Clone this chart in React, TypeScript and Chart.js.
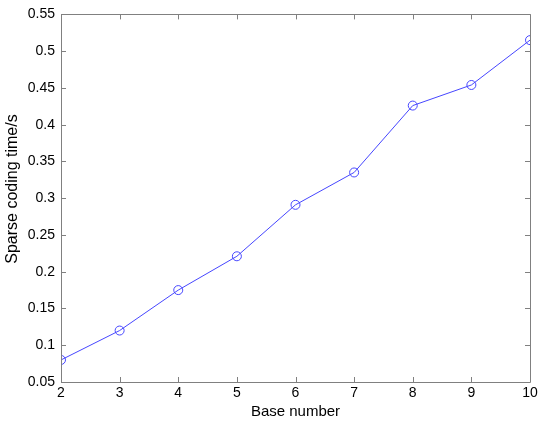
import React, { useEffect, useRef } from "react";
import { Chart, registerables } from "chart.js";

Chart.register(...registerables);

const baseNumbers = [2, 3, 4, 5, 6, 7, 8, 9, 10];
const codingTimes = [0.08, 0.12, 0.175, 0.221, 0.291, 0.335, 0.426, 0.454, 0.515];
const yTicks = [0.05, 0.1, 0.15, 0.2, 0.25, 0.3, 0.35, 0.4, 0.45, 0.5, 0.55];
const xTicks = [2, 3, 4, 5, 6, 7, 8, 9, 10];
const yTitle = "Sparse coding time/s";
const xTitle = "Base number";

const AXIS_COLOR = "#808080";
const FONT = "'Liberation Sans', Arial, sans-serif";

const boxPlugin = {
  id: "matlabBox",
  afterDraw(chart: any) {
    const { ctx, chartArea } = chart;
    const { left, right, top, bottom } = chartArea;
    const xs = chart.scales.x;
    const ys = chart.scales.y;
    ctx.save();
    ctx.strokeStyle = AXIS_COLOR;
    ctx.lineWidth = 1;
    ctx.beginPath();
    ctx.rect(Math.round(left) + 0.5, Math.round(top) + 0.5, Math.round(right - left), Math.round(bottom - top));
    ctx.stroke();
    const tl = 5;
    ctx.beginPath();
    xTicks.forEach((v) => {
      const px = Math.round(xs.getPixelForValue(v)) + 0.5;
      ctx.moveTo(px, bottom);
      ctx.lineTo(px, bottom - tl);
      ctx.moveTo(px, top);
      ctx.lineTo(px, top + tl);
    });
    yTicks.forEach((v) => {
      const py = Math.round(ys.getPixelForValue(v)) + 0.5;
      ctx.moveTo(left, py);
      ctx.lineTo(left + tl, py);
      ctx.moveTo(right, py);
      ctx.lineTo(right - tl, py);
    });
    ctx.stroke();
    // y-axis title
    ctx.translate(13, 189);
    ctx.rotate(-Math.PI / 2);
    ctx.fillStyle = "#000";
    ctx.font = `16px ${FONT}`;
    ctx.textAlign = "center";
    ctx.textBaseline = "middle";
    ctx.fillText(yTitle, 0, 0);
    ctx.restore();
  },
};

export default function App() {
  const ref = useRef<HTMLCanvasElement>(null);
  useEffect(() => {
    document.body.style.margin = "0";
    const chart = new Chart(ref.current as HTMLCanvasElement, {
      type: "line",
      data: {
        datasets: [
          {
            data: baseNumbers.map((x, i) => ({ x, y: codingTimes[i] })),
            borderColor: "#4646ff",
            borderWidth: 1,
            pointStyle: "circle",
            pointRadius: 4.5,
            pointBorderColor: "#4646ff",
            pointBackgroundColor: "rgba(0,0,0,0)",
            pointBorderWidth: 1,
            tension: 0,
          },
        ],
      },
      options: {
        animation: false,
        responsive: false,
        layout: { padding: { top: 14, right: 20, left: 0, bottom: 0 } },
        plugins: { legend: { display: false }, tooltip: { enabled: false } },
        scales: {
          x: {
            type: "linear",
            min: 2,
            max: 10,
            afterBuildTicks: (s: any) => {
              s.ticks = xTicks.map((v) => ({ value: v }));
            },
            afterFit: (s: any) => {
              s.height = 46;
            },
            grid: { display: false, drawTicks: false },
            border: { display: false },
            ticks: {
              color: "#000",
              font: { family: FONT, size: 14 },
              padding: 3,
              maxRotation: 0,
              callback: (v: any) => String(v),
            },
            title: {
              display: true,
              text: xTitle,
              color: "#000",
              font: { family: FONT, size: 15 },
              padding: { top: 0, bottom: 7 },
            },
          },
          y: {
            type: "linear",
            min: 0.05,
            max: 0.55,
            afterBuildTicks: (s: any) => {
              s.ticks = yTicks.map((v) => ({ value: v }));
            },
            afterFit: (s: any) => {
              s.width = 61;
            },
            grid: { display: false, drawTicks: false },
            border: { display: false },
            ticks: {
              color: "#000",
              font: { family: FONT, size: 14 },
              padding: 6,
              callback: (v: any) => String(Math.round(v * 100) / 100),
            },
            title: { display: false },
          },
        },
      },
      plugins: [boxPlugin],
    } as any);
    return () => chart.destroy();
  }, []);
  return (
    <div style={{ width: 550, height: 428, background: "#fff" }}>
      <canvas ref={ref} width={550} height={428} />
    </div>
  );
}
